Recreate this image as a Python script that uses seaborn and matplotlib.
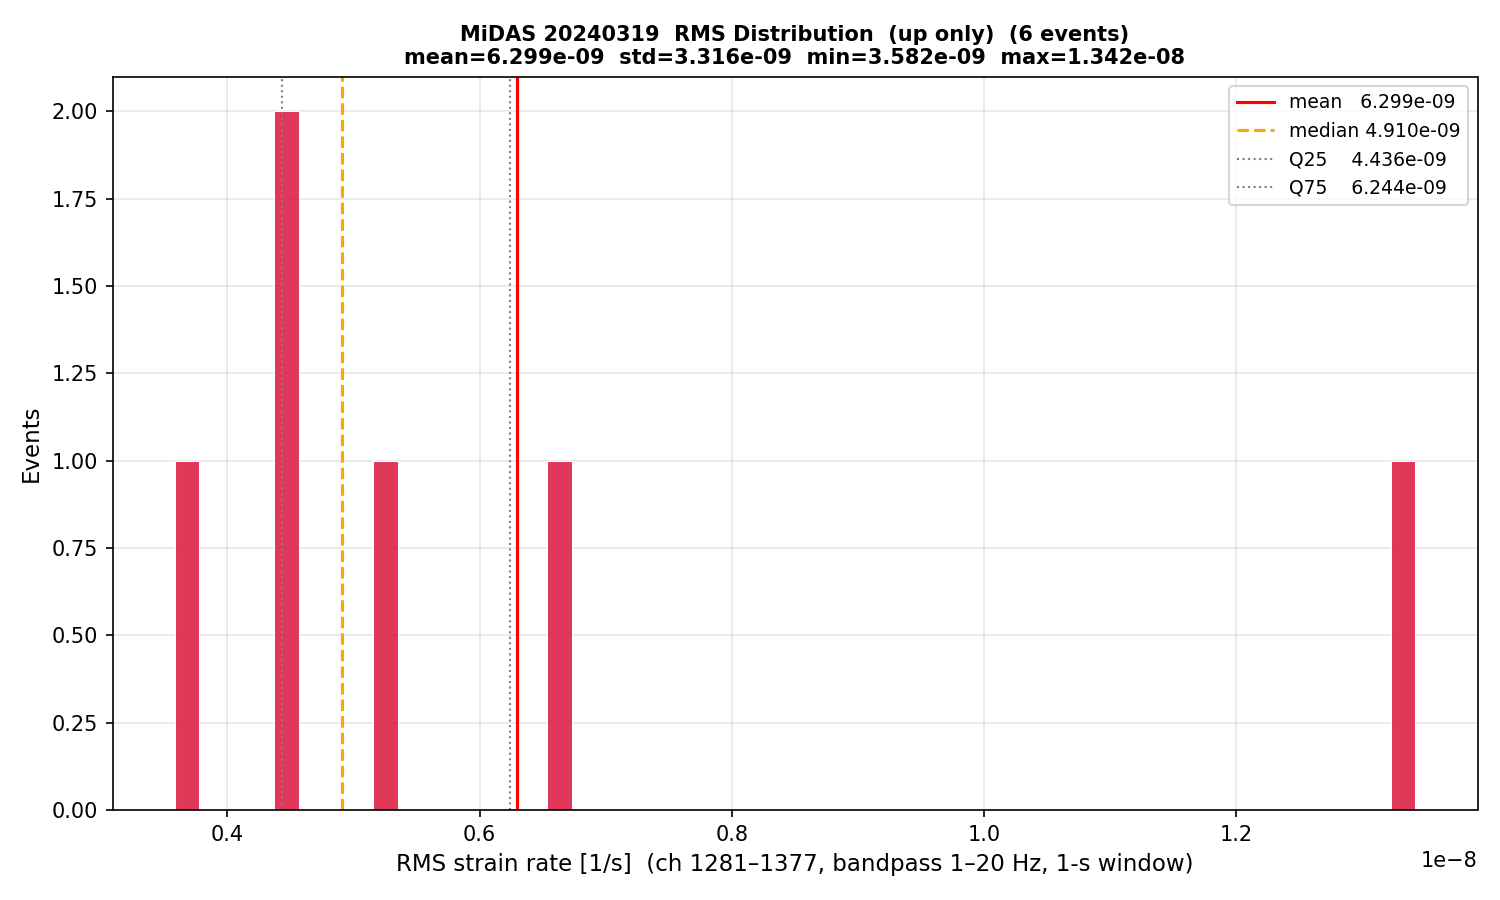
import numpy as np
import pandas as pd
import matplotlib
matplotlib.use("Agg")
import matplotlib.pyplot as plt
import seaborn as sns

# RMS values of the 6 events (1/s)
rms_values = [3.582e-09, 4.400e-09, 4.552e-09, 5.268e-09, 6.572e-09, 13.42e-09]
stat_names = ["mean", "median", "Q25", "Q75"]
stat_values = [6.299e-09, 4.910e-09, 4.436e-09, 6.244e-09]
legend_labels = ["mean   6.299e-09", "median 4.910e-09", "Q25    4.436e-09", "Q75    6.244e-09"]
title_text = ("MiDAS 20240319  RMS Distribution  (up only)  (6 events)\n"
              "mean=6.299e-09  std=3.316e-09  min=3.582e-09  max=1.342e-08")

plt.rcParams['font.family'] = ['DejaVu Sans']

df = pd.DataFrame({"rms": rms_values})
fig, ax = plt.subplots(figsize=(10, 6), dpi=150)
sns.histplot(data=df, x="rms", bins=50, color="crimson", alpha=0.85,
             edgecolor="white", linewidth=0.5, ax=ax)

styles = [dict(color="red", ls="-", lw=1.5),
          dict(color="orange", ls="--", lw=1.5),
          dict(color="gray", ls=":", lw=1.0),
          dict(color="gray", ls=":", lw=1.0)]
for v, lab, st in zip(stat_values, legend_labels, styles):
    ax.axvline(v, label=lab, **st)

ax.set_xlabel("RMS strain rate [1/s]  (ch 1281\u20131377, bandpass 1\u201320 Hz, 1-s window)", fontsize=11)
ax.set_ylabel("Events", fontsize=11)
ax.set_title(title_text, fontsize=10, fontweight="bold")
ax.grid(True, alpha=0.3)
ax.set_axisbelow(True)
ax.legend(fontsize=9, loc="upper right")
fig.subplots_adjust(left=0.075, right=0.985, top=0.915, bottom=0.1)
fig.savefig("out.png", dpi=150)
